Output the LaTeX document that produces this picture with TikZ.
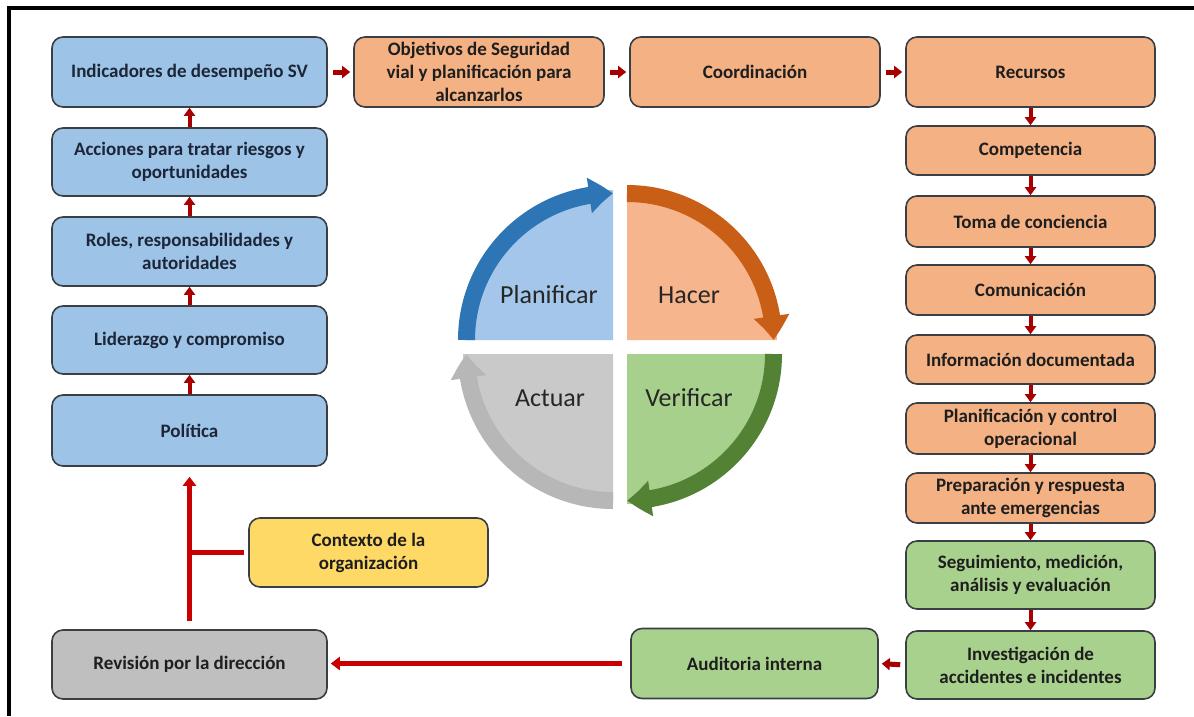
\documentclass[tikz,border=0pt]{standalone}
\usepackage{fontspec}
\setmainfont{Carlito}
\usetikzlibrary{arrows.meta,bending}
\definecolor{bfill}{HTML}{9DC3E6}
\definecolor{ofill}{HTML}{F4B183}
\definecolor{gfill}{HTML}{A9D18E}
\definecolor{yfill}{HTML}{FFD966}
\definecolor{grfill}{HTML}{BFBFBF}
\definecolor{boxline}{HTML}{3A3F46}
\definecolor{boxtext}{HTML}{1E1E1E}
\definecolor{navytext}{HTML}{1C2638}
\definecolor{arrred}{HTML}{A80000}
\definecolor{longred}{HTML}{C80000}
\definecolor{qblue}{HTML}{A3C6EA}
\definecolor{qorange}{HTML}{F6B58C}
\definecolor{qgreen}{HTML}{A8D08D}
\definecolor{qgray}{HTML}{C9C9C9}
\definecolor{ablue}{HTML}{2E75B6}
\definecolor{aorange}{HTML}{C95E16}
\definecolor{agreen}{HTML}{548235}
\definecolor{agray}{HTML}{B7B7B7}
\definecolor{cyctext}{HTML}{262626}
\begin{document}
\begin{tikzpicture}[x=1pt,y=1pt,
  basebox/.style={draw=boxline, line width=1.6pt, rounded corners=11pt, align=center,
    font=\bfseries\fontsize{19}{23}\selectfont, text=boxtext, inner sep=2pt},
  bluebox/.style={basebox, fill=bfill, text=navytext},
  orangebox/.style={basebox, fill=ofill},
  greenbox/.style={basebox, fill=gfill},
  yellowbox/.style={basebox, fill=yfill},
  graybox/.style={basebox, fill=grfill},
  sz/.style 2 args={minimum width=#1, minimum height=#2},
  harr/.style={draw=arrred, line width=5pt, -{Triangle[length=8pt,width=12pt]}, shorten <=5pt, shorten >=3pt},
  varr/.style={draw=arrred, line width=4pt, -{Triangle[length=8pt,width=11pt]}},
  longarr/.style={draw=longred, line width=5.5pt, -{Triangle[length=9pt,width=13pt]}},
  longln/.style={draw=longred, line width=5.5pt},
  cyc/.style={line width=17pt, -{Triangle[length=24pt,width=34pt,bend]}},
  cyclabel/.style={font=\fontsize{26}{30}\selectfont, text=cyctext}
]
\useasboundingbox (0,0) rectangle (1194,-716);
\fill[white] (0,0) rectangle (1194,-716);
% frame
\draw[line width=4pt] (9,-716) -- (9,-8) -- (1194,-8);

% left column
\node[bluebox, sz={275pt}{70pt}] (ind) at (189.5,-72) {Indicadores de desempeño SV};
\node[bluebox, sz={275pt}{68pt}] (acc) at (189.5,-162) {Acciones para tratar riesgos y\\oportunidades};
\node[bluebox, sz={275pt}{69pt}] (rol) at (189.5,-251.5) {Roles, responsabilidades y\\autoridades};
\node[bluebox, sz={275pt}{68pt}] (lid) at (189.5,-340) {Liderazgo y compromiso};
\node[bluebox, sz={275pt}{71pt}] (pol) at (189.5,-430.5) {Política};
\node[graybox, sz={275pt}{69pt}] (rev) at (189.5,-664.5) {Revisión por la dirección};
\node[yellowbox, sz={239pt}{69pt}] (ctx) at (368.5,-552.5) {Contexto de la\\organización};

% top row
\node[orangebox, sz={250pt}{70pt}] (obj) at (479,-72) {Objetivos de Seguridad\\vial y planificación para\\alcanzarlos};
\node[orangebox, sz={250pt}{70pt}] (coo) at (755,-72) {Coordinación};
\node[orangebox, sz={249pt}{70pt}] (rec) at (1030.5,-72) {Recursos};

% right column
\node[orangebox, sz={249pt}{49pt}] (comp) at (1030.5,-150.5) {Competencia};
\node[orangebox, sz={249pt}{51pt}] (toma) at (1030.5,-221.5) {Toma de conciencia};
\node[orangebox, sz={249pt}{50pt}] (comu) at (1030.5,-290) {Comunicación};
\node[orangebox, sz={249pt}{49pt}] (info) at (1030.5,-359.5) {Información documentada};
\node[orangebox, sz={249pt}{51pt}] (plan) at (1030.5,-428.5) {Planificación y control\\operacional};
\node[orangebox, sz={249pt}{50pt}] (prep) at (1030.5,-498) {Preparación y respuesta\\ante emergencias};
\node[greenbox, sz={249pt}{68pt}] (seg) at (1030.5,-575) {Seguimiento, medición,\\análisis y evaluación};
\node[greenbox, sz={249pt}{68pt}] (inv) at (1030.5,-665) {Investigación de\\accidentes e incidentes};
\node[greenbox, sz={247pt}{70pt}] (aud) at (754.5,-663.5) {Auditoria interna};

% small arrows
\draw[harr] (ind.east) -- (obj.west);
\draw[harr] (obj.east) -- (coo.west);
\draw[harr] (coo.east) -- (rec.west);
\draw[harr] (inv.west) -- (aud.east);
\draw[varr] (acc.north) -- (ind.south);
\draw[varr] (rol.north) -- (acc.south);
\draw[varr] (lid.north) -- (rol.south);
\draw[varr] (pol.north) -- (lid.south);
\draw[varr] (rec.south) -- (comp.north);
\draw[varr] (comp.south) -- (toma.north);
\draw[varr] (toma.south) -- (comu.north);
\draw[varr] (comu.south) -- (info.north);
\draw[varr] (info.south) -- (plan.north);
\draw[varr] (plan.south) -- (prep.north);
\draw[varr] (prep.south) -- (seg.north);
\draw[varr] (seg.south) -- (inv.north);

% long connectors
\draw[longarr, shorten <=8pt, shorten >=10pt] (rev.north) -- (pol.south);
\draw[longln, shorten <=4pt] (ctx.west) -- (ctx.west -| pol.south);
\draw[longarr, shorten <=8pt, shorten >=3pt] (aud.west) -- (aud.west -| rev.east);

% PDCA cycle
\coordinate (qB) at (613,-340);
\coordinate (qO) at (627,-340);
\coordinate (qG) at (627,-354);
\coordinate (qA) at (613,-354);
\fill[qblue] (qB) -- ([shift={(180:150)}]qB) arc[start angle=180,end angle=90,radius=150] -- cycle;
\fill[qorange] (qO) -- ([shift={(90:150)}]qO) arc[start angle=90,end angle=0,radius=150] -- cycle;
\fill[qgreen] (qG) -- ([shift={(0:150)}]qG) arc[start angle=0,end angle=-90,radius=150] -- cycle;
\fill[qgray] (qA) -- ([shift={(-90:150)}]qA) arc[start angle=-90,end angle=-180,radius=150] -- cycle;
\draw[cyc, draw=ablue] ([shift={(180:146.5)}]qB) arc[start angle=180,end angle=90,radius=146.5];
\draw[cyc, draw=aorange] ([shift={(90:146.5)}]qO) arc[start angle=90,end angle=0,radius=146.5];
\draw[cyc, draw=agreen] ([shift={(0:146.5)}]qG) arc[start angle=0,end angle=-90,radius=146.5];
\draw[cyc, draw=agray] ([shift={(-90:146.5)}]qA) arc[start angle=-90,end angle=-180,radius=146.5];
\node[cyclabel] (pl) at (549,-295) {Planificar};
\node[cyclabel] (ha) at (689,-295) {Hacer};
\node[cyclabel] (ac) at (550,-398) {Actuar};
\node[cyclabel] (ve) at (689,-398) {Verificar};
\end{tikzpicture}
\end{document}
